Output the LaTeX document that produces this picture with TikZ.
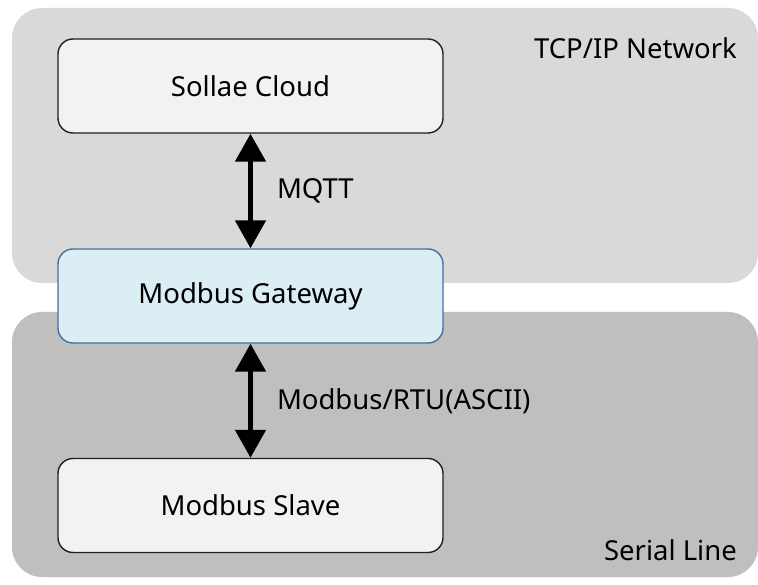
\documentclass[tikz,border=0pt]{standalone}
\usepackage{fontspec}
\setmainfont{Noto Sans}
\usetikzlibrary{arrows.meta}
\definecolor{topreg}{HTML}{D9D9D9}
\definecolor{botreg}{HTML}{BFBFBF}
\definecolor{boxfill}{HTML}{F2F2F2}
\definecolor{gwfill}{HTML}{DAEEF3}
\definecolor{gwline}{HTML}{41719C}
\tikzset{
  region/.style={rounded corners=30pt},
  boxnode/.style={draw=black!88, line width=1.4pt, fill=boxfill, rounded corners=15pt,
    minimum width=385pt, minimum height=94pt, inner sep=0pt, font=\fontsize{27.5}{32}\selectfont},
  gwnode/.style={boxnode, draw=gwline, fill=gwfill},
  lbl/.style={font=\fontsize{27.5}{32}\selectfont, inner sep=0pt},
  biarrow/.style={{Triangle[width=30pt,length=28pt]}-{Triangle[width=30pt,length=28pt]}, line width=5pt, black}
}
\begin{document}
\begin{tikzpicture}[x=1pt,y=-1pt]
\useasboundingbox (0,0) rectangle (758,585);
\fill[white] (0,0) rectangle (758,585);
\fill[topreg, region] (12,8) rectangle (758,283);
\fill[botreg, region] (12,312) rectangle (758,577);
\node[lbl, anchor=east] (tcp) at (737,48) {TCP/IP Network};
\node[lbl, anchor=east] (serial) at (737,550) {Serial Line};
\node[boxnode] (cloud) at (250.5,86) {Sollae Cloud};
\node[gwnode] (gw) at (250.5,296) {Modbus Gateway};
\node[boxnode] (slave) at (250.5,505.5) {Modbus Slave};
\draw[biarrow] (cloud.south) -- (gw.north) node[midway, right=24pt, lbl] (mqtt) {MQTT};
\draw[biarrow] (gw.south) -- (slave.north) node[midway, right=24pt, lbl] (rtu) {Modbus/RTU(ASCII)};
\end{tikzpicture}
\end{document}
